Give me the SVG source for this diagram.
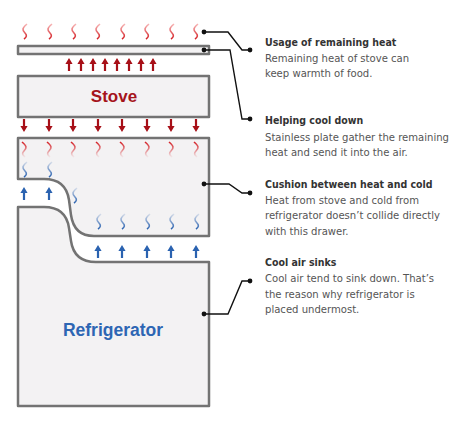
<svg xmlns="http://www.w3.org/2000/svg" width="468" height="431" viewBox="0 0 468 431">
<style>
.box{fill:#f3f2f3;stroke:#737373;stroke-width:2.5;stroke-linejoin:round}
.ln{fill:none;stroke:#111;stroke-width:1.4}
.dot{fill:#111}
.ttl{font-family:"DejaVu Sans Condensed","DejaVu Sans",sans-serif;font-size:10.5px;font-weight:bold;fill:#333}
.bd{font-family:"DejaVu Sans Condensed","DejaVu Sans",sans-serif;font-size:11.2px;fill:#555}
.sqt{fill:none;stroke:url(#gTop);stroke-width:1.6}
.sqr{fill:none;stroke:url(#gRed);stroke-width:1.6}
.sqb{fill:none;stroke:url(#gBlue);stroke-width:1.6}
.ar{fill:#a70f17}
.ab{fill:#2a62b0}
</style>
<defs>
<linearGradient id="gTop" x1="0" y1="0" x2="0" y2="1"><stop offset="0" stop-color="#f7b5b5"/><stop offset="1" stop-color="#d41f25"/></linearGradient>
<linearGradient id="gRed" x1="0" y1="0" x2="0" y2="1"><stop offset="0" stop-color="#d41f25"/><stop offset="1" stop-color="#d41f25" stop-opacity="0.05"/></linearGradient>
<linearGradient id="gBlue" x1="0" y1="0" x2="0" y2="1"><stop offset="0" stop-color="#2a62b0" stop-opacity="0.15"/><stop offset="1" stop-color="#2a62b0"/></linearGradient>
<path id="up" d="M0,0 L3.6,6 L1.1,6 L1.1,13 L-1.1,13 L-1.1,6 L-3.6,6 Z"/>
<path id="dn" d="M0,13 L3.6,7 L1.1,7 L1.1,0 L-1.1,0 L-1.1,7 L-3.6,7 Z"/>
<path id="sL" d="M2,0 C-3,4 -3,6 0,9 C2,11 2,13 -1,15"/>
<path id="sR" d="M-2,0 C3,4 3,6 0,9 C-2,11 -2,13 1,15"/>
</defs>

<g id="top-heat">
<use href="#sL" class="sqt" x="25" y="24"/><use href="#sL" class="sqt" x="50" y="24"/><use href="#sL" class="sqt" x="74" y="24"/><use href="#sL" class="sqt" x="98" y="24"/><use href="#sL" class="sqt" x="123" y="24"/><use href="#sL" class="sqt" x="147" y="24"/><use href="#sL" class="sqt" x="172" y="24"/><use href="#sL" class="sqt" x="196" y="24"/>
</g>

<g id="plate"><rect class="box" x="18" y="46" width="191" height="8"/></g>

<g id="up-arrows">
<use href="#up" class="ar" x="69" y="58"/><use href="#up" class="ar" x="81" y="58"/><use href="#up" class="ar" x="93" y="58"/><use href="#up" class="ar" x="105" y="58"/><use href="#up" class="ar" x="117" y="58"/><use href="#up" class="ar" x="129" y="58"/><use href="#up" class="ar" x="141" y="58"/><use href="#up" class="ar" x="153" y="58"/>
</g>

<g id="stove">
<rect class="box" x="18" y="76" width="191" height="41"/>
<text x="114" y="102" text-anchor="middle" font-family="Liberation Sans, Arial, sans-serif" font-weight="bold" font-size="17" fill="#a5141b">Stove</text>
</g>

<g id="down-arrows">
<use href="#dn" class="ar" x="24" y="119"/><use href="#dn" class="ar" x="49" y="119"/><use href="#dn" class="ar" x="73" y="119"/><use href="#dn" class="ar" x="98" y="119"/><use href="#dn" class="ar" x="122" y="119"/><use href="#dn" class="ar" x="147" y="119"/><use href="#dn" class="ar" x="171" y="119"/><use href="#dn" class="ar" x="196" y="119"/>
</g>

<g id="drawer">
<path class="box" d="M18,138 H209 V236 H94 Q74,236 71,215 L69,200 Q66,179 44,179 H18 Z"/>
<use href="#sR" class="sqr" x="24" y="142"/><use href="#sR" class="sqr" x="49" y="142"/><use href="#sR" class="sqr" x="73" y="142"/><use href="#sR" class="sqr" x="98" y="142"/><use href="#sR" class="sqr" x="122" y="142"/><use href="#sR" class="sqr" x="147" y="142"/><use href="#sR" class="sqr" x="171" y="142"/><use href="#sR" class="sqr" x="196" y="142"/>
<use href="#sL" class="sqb" x="25" y="162"/><use href="#sL" class="sqb" x="50" y="162"/>
<use href="#sL" class="sqb" x="75" y="188"/>
<use href="#sL" class="sqb" x="99" y="214"/><use href="#sL" class="sqb" x="123" y="214"/><use href="#sL" class="sqb" x="148" y="214"/><use href="#sL" class="sqb" x="172" y="214"/><use href="#sL" class="sqb" x="197" y="214"/>
</g>

<g id="cold-arrows">
<use href="#up" class="ab" x="24" y="187"/><use href="#up" class="ab" x="49" y="187"/>
<use href="#up" class="ab" x="98" y="245"/><use href="#up" class="ab" x="122" y="245"/><use href="#up" class="ab" x="147" y="245"/><use href="#up" class="ab" x="171" y="245"/><use href="#up" class="ab" x="196" y="245"/>
</g>

<g id="refrigerator">
<path class="box" d="M18,207 H44 Q66,207 69,228 L71,241 Q74,262 96,262 H209 V406 H18 Z"/>
<text x="113" y="336" text-anchor="middle" font-family="Liberation Sans, Arial, sans-serif" font-weight="bold" font-size="17.5" fill="#2d66b3">Refrigerator</text>
</g>

<g id="connectors">
<path class="ln" d="M204,32 H228 L242,50 H250"/>
<path class="ln" d="M204,50 H230 L242,119 H250"/>
<path class="ln" d="M204,184 H229 L242,193 H250"/>
<path class="ln" d="M204,314 H228 L242,281 H250"/>
<circle class="dot" cx="204" cy="32" r="2.4"/><circle class="dot" cx="250" cy="50" r="2.4"/>
<circle class="dot" cx="204" cy="50" r="2.4"/><circle class="dot" cx="250" cy="119" r="2.4"/>
<circle class="dot" cx="204" cy="184" r="2.4"/><circle class="dot" cx="250" cy="193" r="2.4"/>
<circle class="dot" cx="204" cy="314" r="2.4"/><circle class="dot" cx="250" cy="281" r="2.4"/>
</g>

<g id="label-usage">
<text class="ttl" x="265" y="46">Usage of remaining heat</text>
<text class="bd" x="265" y="62">Remaining heat of stove can</text>
<text class="bd" x="265" y="77">keep warmth of food.</text>
</g>
<g id="label-cooling">
<text class="ttl" x="265" y="124">Helping cool down</text>
<text class="bd" x="265" y="141">Stainless plate gather the remaining</text>
<text class="bd" x="265" y="156">heat and send it into the air.</text>
</g>
<g id="label-cushion">
<text class="ttl" x="265" y="188">Cushion between heat and cold</text>
<text class="bd" x="265" y="204">Heat from stove and cold from</text>
<text class="bd" x="265" y="219">refrigerator doesn’t collide directly</text>
<text class="bd" x="265" y="235">with this drawer.</text>
</g>
<g id="label-sinks">
<text class="ttl" x="265" y="266">Cool air sinks</text>
<text class="bd" x="265" y="282">Cool air tend to sink down. That’s</text>
<text class="bd" x="265" y="298">the reason why refrigerator is</text>
<text class="bd" x="265" y="313">placed undermost.</text>
</g>
</svg>
